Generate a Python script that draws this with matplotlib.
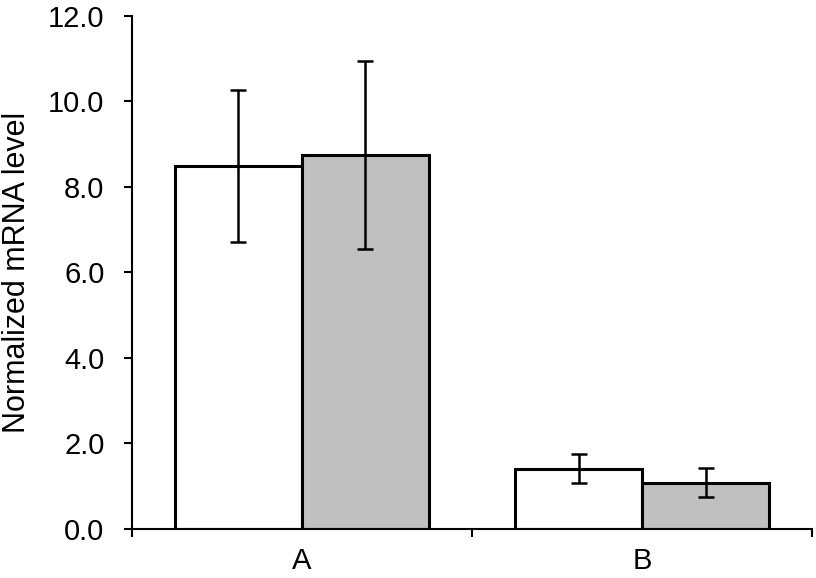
import matplotlib.pyplot as plt
import numpy as np

plt.rcParams['font.family'] = ['Liberation Sans', 'DejaVu Sans']

categories = ['A', 'B']
white_vals = [8.48, 1.40]
white_err = [1.78, 0.34]
gray_vals = [8.74, 1.07]
gray_err = [2.19, 0.34]
y_ticks = [0, 2, 4, 6, 8, 10, 12]

fig = plt.figure(figsize=(8.16, 5.78), dpi=100)
ax = fig.add_axes([0.1614, 0.0853, 0.8343, 0.8875])

x = np.arange(len(categories))
w = 0.373

ax.bar(x - w / 2, white_vals, w, color='white', edgecolor='black', linewidth=2.2, zorder=2)
ax.bar(x + w / 2, gray_vals, w, color='#c0c0c0', edgecolor='black', linewidth=2.2, zorder=2)
ax.errorbar(x - w / 2, white_vals, yerr=white_err, fmt='none', ecolor='black',
            elinewidth=1.8, capsize=6, capthick=1.8, zorder=3)
ax.errorbar(x + w / 2, gray_vals, yerr=gray_err, fmt='none', ecolor='black',
            elinewidth=1.8, capsize=6, capthick=1.8, zorder=3)

ax.set_xlim(-0.5, len(categories) - 0.5)
ax.set_ylim(0, 12)

ax.spines['top'].set_visible(False)
ax.spines['right'].set_visible(False)
ax.spines['left'].set_linewidth(1.5)
ax.spines['bottom'].set_linewidth(1.5)

ax.set_yticks(y_ticks)
ax.set_yticklabels([f'{v:.1f}' for v in y_ticks])
ax.tick_params(axis='y', direction='out', length=5.5, width=1.5, pad=14, labelsize=21)

ax.set_xticks(x)
ax.set_xticklabels(categories)
ax.set_xticks(np.arange(-0.5, len(categories), 1.0), minor=True)
ax.tick_params(axis='x', which='major', length=0, pad=13, labelsize=21)
ax.tick_params(axis='x', which='minor', direction='out', length=5.5, width=1.5)

ax.set_ylabel('Normalized mRNA level', fontsize=22)
ax.yaxis.set_label_coords(-0.147, 0.5)

fig.savefig('out.png', dpi=100)
